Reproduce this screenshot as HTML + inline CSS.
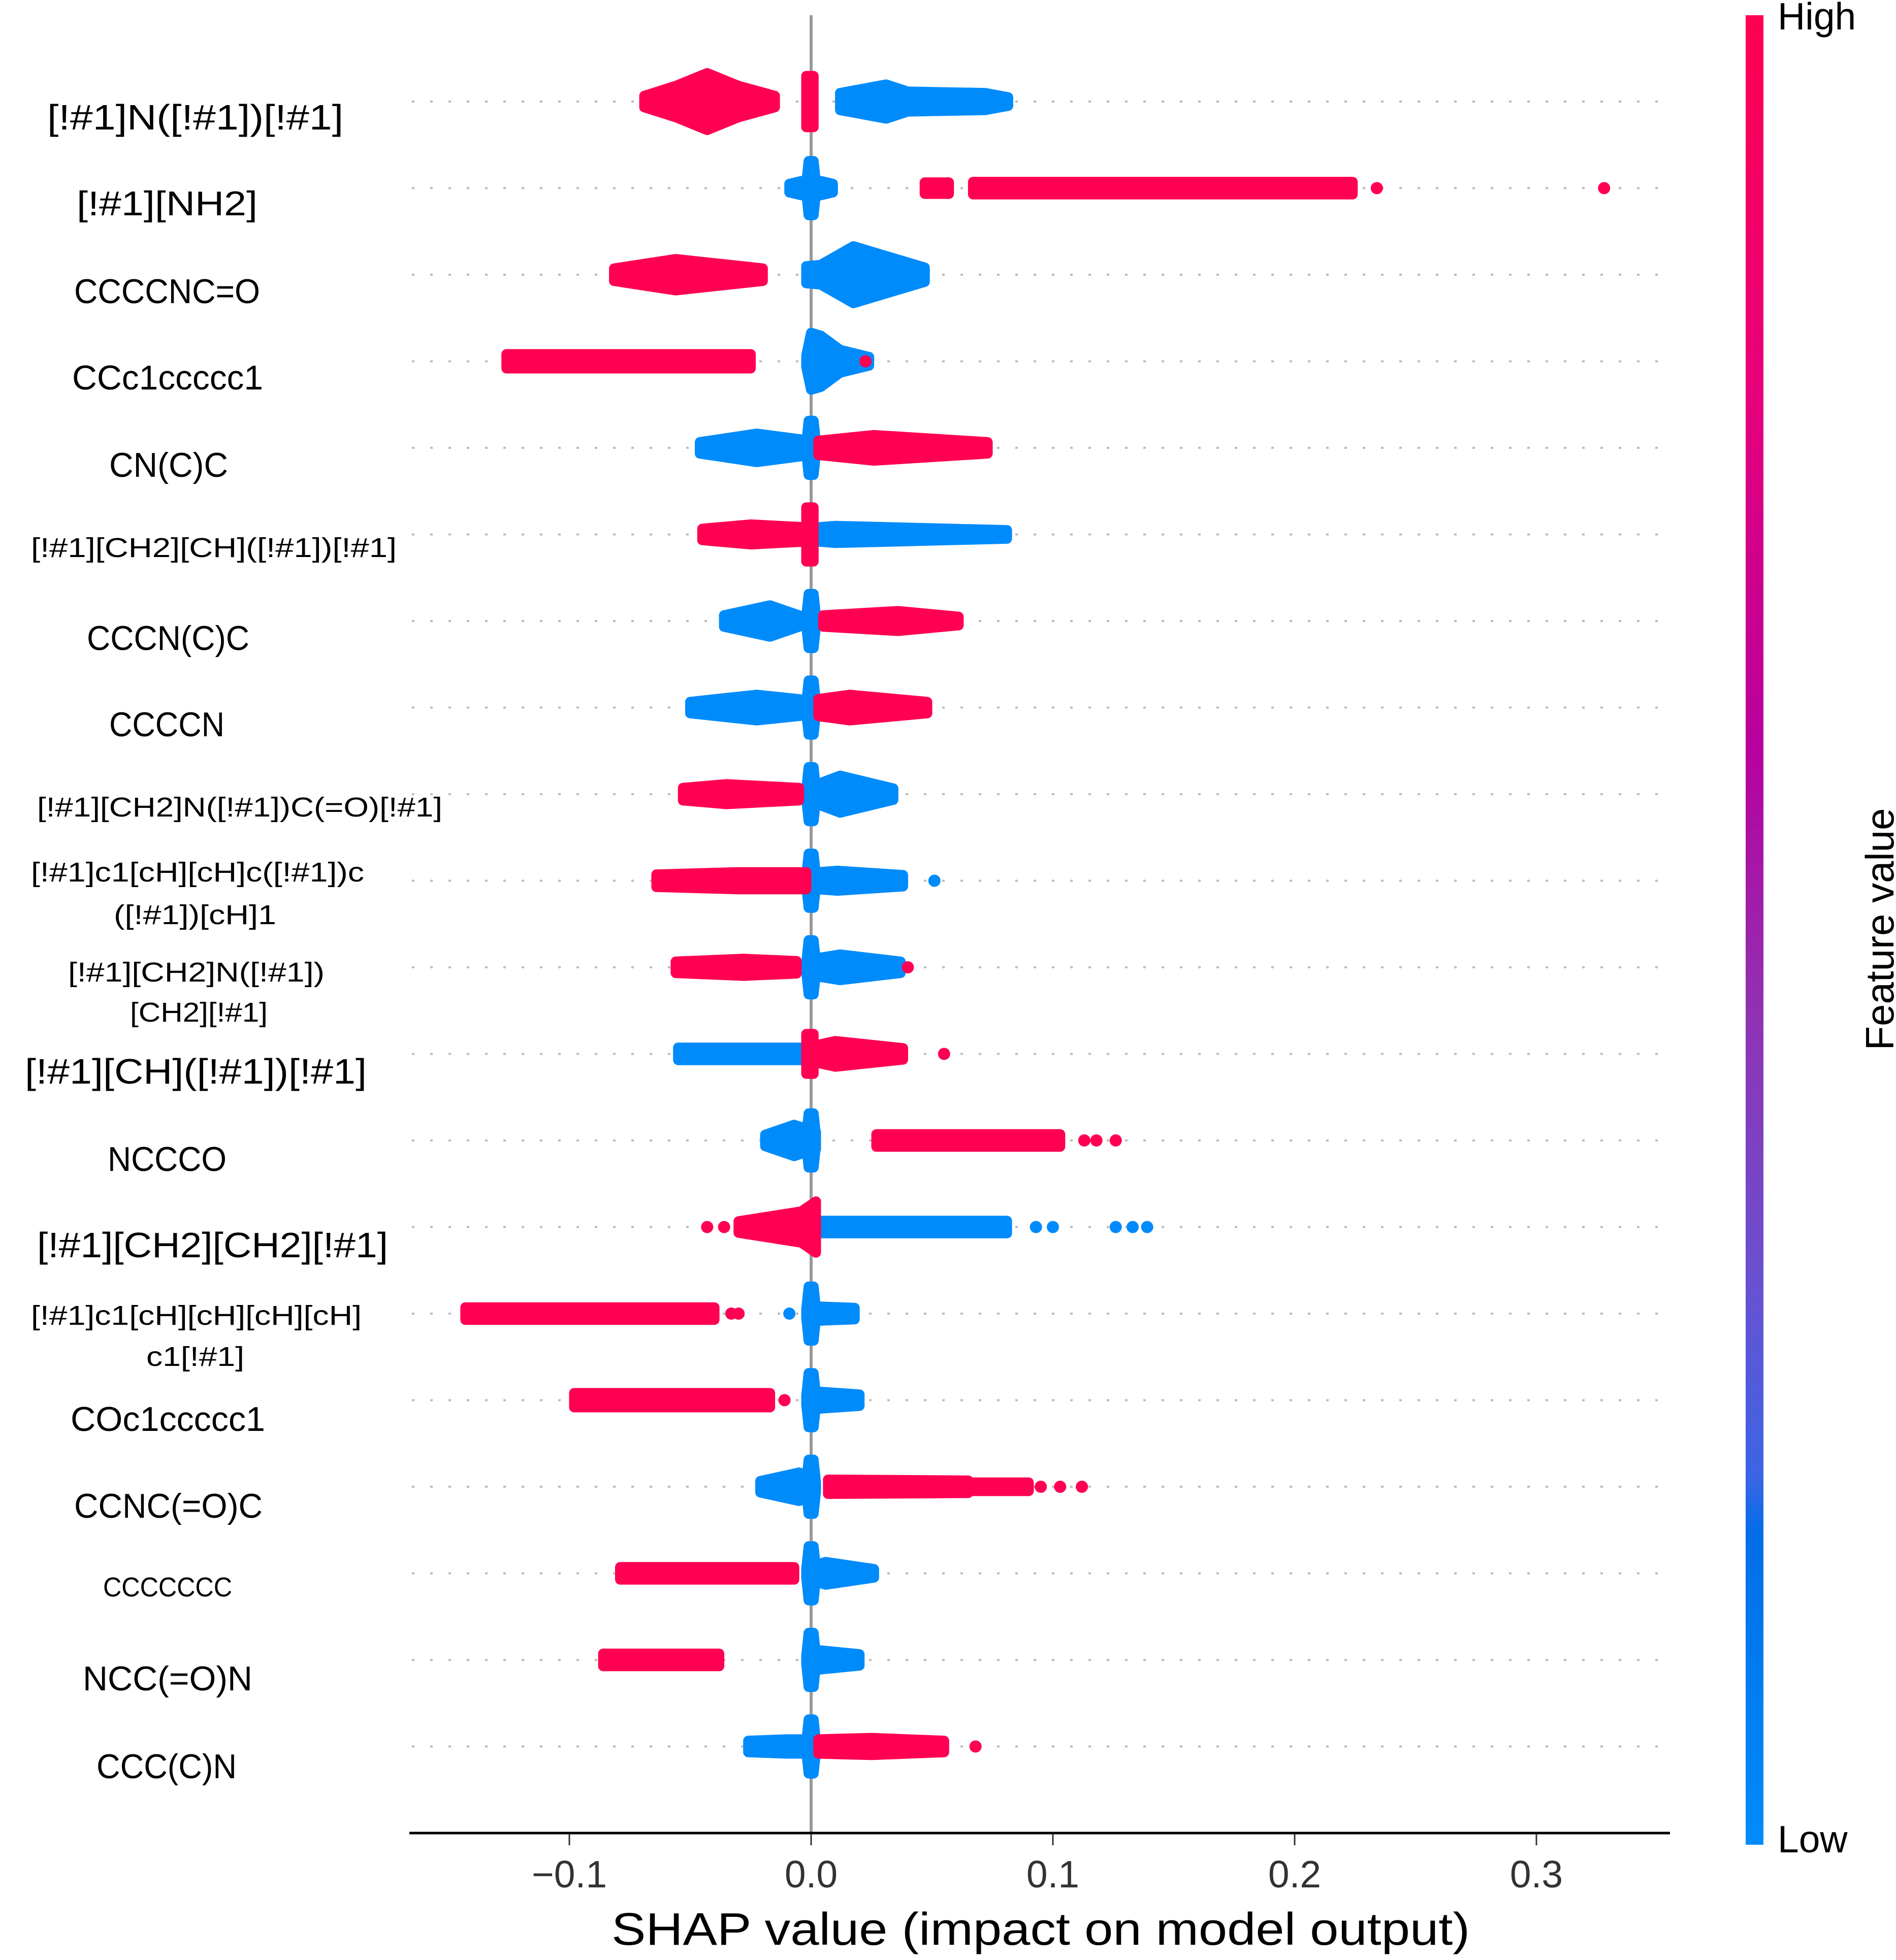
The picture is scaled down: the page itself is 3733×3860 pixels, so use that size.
<!DOCTYPE html>
<html><head><meta charset="utf-8"><style>html,body{margin:0;padding:0;background:#fff}svg{display:block}</style></head>
<body>
<svg id="chart" width="3733" height="3860" viewBox="0 0 3733 3860" xmlns="http://www.w3.org/2000/svg" font-family="'Liberation Sans', sans-serif">
<defs>
<linearGradient id="cbar" x1="0" y1="0" x2="0" y2="1">
<stop offset="0" stop-color="#ff0051"/><stop offset="0.2" stop-color="#e8007a"/><stop offset="0.4" stop-color="#b8009e"/><stop offset="0.55" stop-color="#8f33b4"/><stop offset="0.7" stop-color="#6652d2"/><stop offset="0.8" stop-color="#3a65e4"/><stop offset="0.83" stop-color="#006ee8"/><stop offset="1" stop-color="#008bfb"/>
</linearGradient>
</defs>
<g id="grid"></g>
<line x1="1597" y1="30" x2="1597" y2="3610" stroke="#999" stroke-width="6"/>
<g id="marks"></g>
<g id="labels"></g>
<g id="xaxis"></g>
<text x="2049" y="3830" font-size="90" text-anchor="middle" fill="#000" textLength="1690" lengthAdjust="spacingAndGlyphs">SHAP value (impact on model output)</text>
<rect x="3437" y="30" width="35" height="3603" fill="url(#cbar)"/>
<text x="3500" y="58" font-size="75" fill="#000">High</text>
<text x="3500" y="3648" font-size="75" fill="#000">Low</text>
<text transform="translate(3728,1830) rotate(-90)" font-size="78" text-anchor="middle" fill="#000">Feature value</text>
</svg>
<script>
const NS = 'http://www.w3.org/2000/svg';
const features = ["[!#1]N([!#1])[!#1]","[!#1][NH2]","CCCCNC=O","CCc1ccccc1","CN(C)C","[!#1][CH2][CH]([!#1])[!#1]","CCCN(C)C","CCCCN","[!#1][CH2]N([!#1])C(=O)[!#1]","[!#1]c1[cH][cH]c([!#1])c([!#1])[cH]1","[!#1][CH2]N([!#1])[CH2][!#1]","[!#1][CH]([!#1])[!#1]","NCCCO","[!#1][CH2][CH2][!#1]","[!#1]c1[cH][cH][cH][cH]c1[!#1]","COc1ccccc1","CCNC(=O)C","CCCCCCC","NCC(=O)N","CCC(C)N"];
const xTicks = [-0.1, 0.0, 0.1, 0.2, 0.3];
const xTickLabels = ["\u22120.1","0.0","0.1","0.2","0.3"];
const S = [[-0.002,0.15],[-0.001,0.95],[0.001,0.95],[0.002,0.15]];
const highProfiles = [
 [[[-0.069,0.2],[-0.056,0.55],[-0.043,1.0],[-0.030,0.55],[-0.015,0.2]], [[-0.002,0.9],[0.001,0.9]]],
 [[[0.047,0.2],[0.057,0.2]], [[0.067,0.22],[0.224,0.22]]],
 [[[-0.0815,0.22],[-0.056,0.55],[-0.020,0.22]]],
 [[[-0.126,0.25],[-0.025,0.25]]],
 [[[0.003,0.25],[0.026,0.45],[0.073,0.2]]],
 [[[-0.045,0.2],[-0.025,0.35],[-0.002,0.25]], [[-0.002,0.95],[0.001,0.95]]],
 [[[0.005,0.2],[0.036,0.35],[0.061,0.15]]],
 [[[0.003,0.3],[0.016,0.45],[0.048,0.2]]],
 [[[-0.053,0.22],[-0.035,0.35],[-0.005,0.22]]],
 [[[-0.064,0.22],[-0.03,0.3],[-0.002,0.3]]],
 [[[-0.056,0.2],[-0.028,0.3],[-0.006,0.22]]],
 [[[0.002,0.3],[0.010,0.45],[0.038,0.2]], [[-0.002,0.7],[0.001,0.7]]],
 [[[0.027,0.22],[0.103,0.22]]],
 [[[-0.03,0.2],[-0.004,0.55],[0.002,0.9]]],
 [[[-0.143,0.22],[-0.04,0.22]]],
 [[[-0.098,0.25],[-0.017,0.25]]],
 [[[0.007,0.25],[0.065,0.22]], [[0.067,0.15],[0.09,0.15]]],
 [[[-0.079,0.22],[-0.007,0.22]]],
 [[[-0.086,0.22],[-0.038,0.22]]],
 [[[0.003,0.25],[0.025,0.3],[0.055,0.2]]]
];
const lowProfiles = [
 [[[0.012,0.3],[0.031,0.6],[0.040,0.35],[0.072,0.3],[0.0815,0.15]]],
 [S, [[-0.009,0.15],[-0.004,0.25],[0.004,0.25],[0.009,0.15]]],
 [[[-0.002,0.3],[0.005,0.35]], [[0.003,0.3],[0.0175,1.0],[0.047,0.25]]],
 [[[-0.002,0.2],[0,1.0],[0.004,0.9],[0.012,0.4],[0.024,0.15]]],
 [[[-0.046,0.2],[-0.0225,0.5],[0,0.25]], S],
 [[[0.003,0.25],[0.01,0.3],[0.081,0.15]]],
 [[[-0.036,0.2],[-0.017,0.55],[-0.005,0.2]], S],
 [[[-0.05,0.2],[-0.0225,0.45],[0,0.25]], S],
 [[[0.001,0.3],[0.012,0.65],[0.034,0.2]], S],
 [[[0.003,0.3],[0.011,0.35],[0.038,0.2]], S],
 [[[0.001,0.3],[0.012,0.45],[0.037,0.2]], S],
 [[[-0.055,0.22],[-0.002,0.22]]],
 [[[-0.019,0.2],[-0.007,0.55],[0.002,0.3]], S],
 [[[0.003,0.22],[0.081,0.22]]],
 [[[0.003,0.25],[0.018,0.2]], S],
 [[[0.003,0.3],[0.02,0.2]], S],
 [[[-0.021,0.2],[-0.005,0.5],[0.001,0.3]], S],
 [[[0.002,0.3],[0.006,0.4],[0.026,0.15]], S],
 [[[0.002,0.35],[0.02,0.2]], S],
 [[[-0.026,0.2],[-0.01,0.25],[0.001,0.25]], S]
];
const highDots = [[],[0.234,0.328],[],[0.0225],[],[],[],[],[],[],[0.04],[0.055],[0.113,0.118,0.126],[-0.043,-0.036],[-0.033,-0.03],[-0.011],[0.095,0.103,0.112],[],[],[0.068]];
const lowDots = [[],[],[],[],[],[],[],[],[],[0.051],[],[],[],[0.093,0.1,0.126,0.133,0.139],[-0.009],[],[],[],[],[]];
const labelLines = [
 [["[!#1]N([!#1])[!#1]",38,277,93,70]],[["[!#1][NH2]",62,208,162,68]],[["CCCCNC=O",60,210,232,68]],[["CCc1ccccc1",58,212,301,68]],[["CN(C)C",88,184,371,68]],
 [["[!#1][CH2][CH]([!#1])[!#1]",25,320,437,54]],[["CCCN(C)C",70,201,509,68]],[["CCCCN",88,181,578,68]],[["[!#1][CH2]N([!#1])C(=O)[!#1]",30,357,644,54]],
 [["[!#1]c1[cH][cH]c([!#1])c",25,294,696,54],["([!#1])[cH]1",92,223,730,54]],
 [["[!#1][CH2]N([!#1])",55,262,776,54],["[CH2][!#1]",105,216,808,54]],
 [["[!#1][CH]([!#1])[!#1]",20,296,855,70]],[["NCCCO",87,183,925,68]],[["[!#1][CH2][CH2][!#1]",30,313,994,70]],
 [["[!#1]c1[cH][cH][cH][cH]",25,292,1050,54],["c1[!#1]",118,197,1083,54]],
 [["COc1ccccc1",57,214,1133,68]],[["CCNC(=O)C",60,212,1202,68]],[["CCCCCCC",83,187,1267,54]],[["NCC(=O)N",67,204,1340,68]],[["CCC(C)N",78,191,1410,68]]
];
const X0 = 1597, PXV = 4760, ROW0 = 200, ROWH = 170.5, HMAX = 56;
const HIGH = '#ff0052', LOW = '#008bfb';
const xs = v => X0 + v * PXV;
const ys = i => ROW0 + i * ROWH;
const grid = document.getElementById('grid'), marks = document.getElementById('marks'), labels = document.getElementById('labels'), xaxis = document.getElementById('xaxis');
function mk(tag, attrs, parent){const e=document.createElementNS(NS,tag);for(const k in attrs)e.setAttribute(k,attrs[k]);parent.appendChild(e);return e;}
features.forEach((f,i)=>{
  const y = ys(i);
  const gl = mk('line',{x1:811,x2:3288,y1:y,y2:y,stroke:'#bbb','stroke-width':4,'stroke-dasharray':'5 31'},grid);
  
  
  const g = mk('g',{},marks);
  
  
  const draw=(profiles,col,kind)=>profiles.forEach(p=>{
    const top=p.map(([v,d])=>xs(v).toFixed(1)+','+(y-d*HMAX).toFixed(1));
    const bot=p.slice().reverse().map(([v,d])=>xs(v).toFixed(1)+','+(y+d*HMAX).toFixed(1));
    const pg=mk('polygon',{points:top.concat(bot).join(' '),fill:col,stroke:col,'stroke-width':20,'stroke-linejoin':'round'},g);
    
    
  });
  draw(lowProfiles[i],LOW,'low-value');
  draw(highProfiles[i],HIGH,'high-value');
  lowDots[i].forEach(v=>{const c=mk('circle',{cx:xs(v),cy:y,r:12,fill:LOW},g);
    
    });
  highDots[i].forEach(v=>{const c=mk('circle',{cx:xs(v),cy:y,r:12,fill:HIGH},g);
    
    });
  labelLines[i].forEach(([t,x0,x1,yc,fs])=>{
    const tx=mk('text',{x:(x0*2.44).toFixed(0),y:(yc*2.466+fs*0.36).toFixed(0),'font-size':fs,fill:'#000',textLength:((x1-x0)*2.44).toFixed(0),lengthAdjust:'spacingAndGlyphs'},labels);
    tx.textContent=t;
    
    
  });
});
const ax=mk('line',{x1:806,x2:3288,y1:3610,y2:3610,stroke:'#000','stroke-width':5},xaxis);


xTicks.forEach((t,k)=>{
  const tl=mk('line',{x1:xs(t),x2:xs(t),y1:3612,y2:3634,stroke:'#333','stroke-width':3},xaxis);
  
  
  const tt=mk('text',{x:xs(t),y:3717,'font-size':75,fill:'#333','text-anchor':'middle'},xaxis);
  tt.textContent=xTickLabels[k];
  
  
});
</script>
</body></html>
